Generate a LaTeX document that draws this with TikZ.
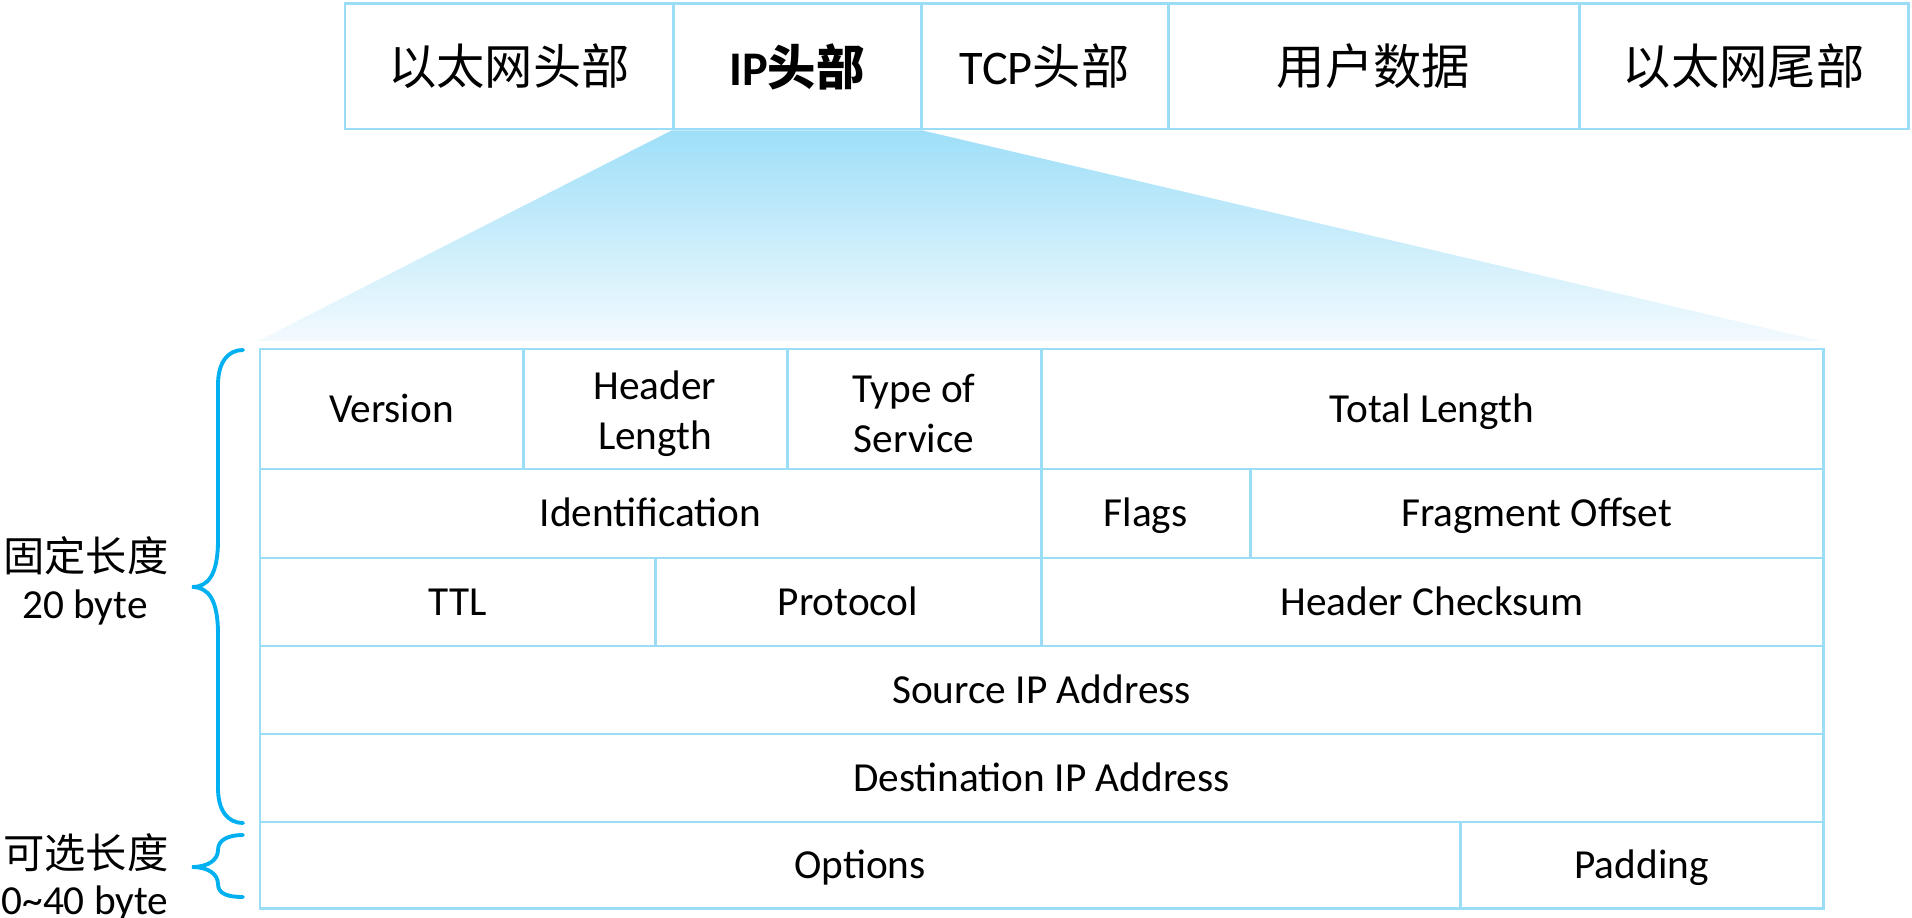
\documentclass[tikz,border=0pt]{standalone}
\usepackage{fontspec}
\setmainfont{Carlito}
\newfontfamily\cjk{Noto Sans CJK SC}
\usepackage{xcolor}
\usetikzlibrary{fit,positioning,backgrounds}
\definecolor{lineBlue}{HTML}{9BDCF6}
\definecolor{braceBlue}{HTML}{00B0F0}
\definecolor{fadeTop}{HTML}{9EDFF8}
\definecolor{fadeBot}{HTML}{F3FAFE}

\begin{document}
\begin{tikzpicture}[x=0.02cm, y=-0.02cm, font=\fontsize{23.5}{28.2}\selectfont,
  cell/.style={draw=lineBlue, line width=1.7pt, inner sep=0pt},
  txt/.style={inner sep=0pt, text height=15pt, text depth=0pt},
  twoline/.style={align=center, inner sep=0pt, yshift=-0.09cm},
  segtxt/.style={align=center, inner sep=0pt, font=\cjk\fontsize{27.5}{33}\selectfont},
  side/.style={font=\cjk\fontsize{23.5}{28}\selectfont},
  brc/.style={draw=braceBlue, line width=2.2pt, line cap=round}]
\useasboundingbox (0,0) rectangle (1912,918);
% frame row
\node[cell, fit={(345,4) (673,129)}, label={[segtxt]center:以太网头部}] (eth) {};
\node[cell, fit={(673,4) (921,129)}, label={[segtxt, font=\cjk\bfseries\fontsize{27.5}{33}\selectfont]center:{\rmfamily IP}头部}] (iph) {};
\node[cell, fit={(921,4) (1168,129)}, label={[segtxt]center:{\rmfamily TCP}头部}] (tcph) {};
\node[cell, fit={(1168,4) (1579,129)}, label={[segtxt]center:用户数据}] (data) {};
\node[cell, fit={(1579,4) (1908,129)}, label={[segtxt]center:以太网尾部}] (etht) {};
% header fields
\node[cell, fit={(260,349) (523,469)}, label={[txt]center:Version}] (ver) {};
\node[cell, fit={(523,349) (787,469)}, label={[twoline]center:Header\\Length}] (hlen) {};
\node[cell, fit={(787,349) (1041,469)}, label={[twoline]center:Type of\\Service}] (tos) {};
\node[cell, fit={(1041,349) (1823,469)}, label={[txt]center:Total Length}] (tlen) {};
\node[cell, fit={(260,469) (1041,558)}, label={[txt]center:Identification}] (ident) {};
\node[cell, fit={(1041,469) (1250,558)}, label={[txt]center:Flags}] (flags) {};
\node[cell, fit={(1250,469) (1823,558)}, label={[txt]center:Fragment Offset}] (frag) {};
\node[cell, fit={(260,558) (655,646)}, label={[txt]center:TTL}] (ttl) {};
\node[cell, fit={(655,558) (1041,646)}, label={[txt]center:Protocol}] (proto) {};
\node[cell, fit={(1041,558) (1823,646)}, label={[txt]center:Header Checksum}] (csum) {};
\node[cell, fit={(260,646) (1823,734)}, label={[txt]center:Source IP Address}] (src) {};
\node[cell, fit={(260,734) (1823,822)}, label={[txt]center:Destination IP Address}] (dst) {};
\node[cell, fit={(260,822) (1460,908)}, label={[txt]center:Options}] (opt) {};
\node[cell, fit={(1460,822) (1823,908)}, label={[txt]center:Padding}] (pad) {};
% zoom fan
\begin{scope}[on background layer]
\shade[top color=fadeTop, bottom color=fadeBot] (iph.south west) -- (iph.south east) -- (1821,341) -- (258,341) -- cycle;
\end{scope}
% lengths
\node[side] (fixlbl) at (86,556) {固定长度};
\node[anchor=base] (fixsz) at (85,618) {20 byte};
\node[side] (optlbl) at (86,853) {可选长度};
\node[anchor=base] (optsz) at (85,914) {0\textasciitilde 40 byte};
\draw[brc] (243,350) .. controls (228,350) and (218,362) .. (218,385) -- (218,540)
  .. controls (218,575) and (208,587) .. (192,587)
  .. controls (208,587) and (218,599) .. (218,634) -- (218,788)
  .. controls (218,811) and (228,823) .. (243,823);
\draw[brc] (243,835) .. controls (228,835) and (218,840) .. (218,850)
  .. controls (218,860) and (208,867) .. (192,867)
  .. controls (208,867) and (218,874) .. (218,884)
  .. controls (218,894) and (228,897) .. (243,897);
\end{tikzpicture}
\end{document}
